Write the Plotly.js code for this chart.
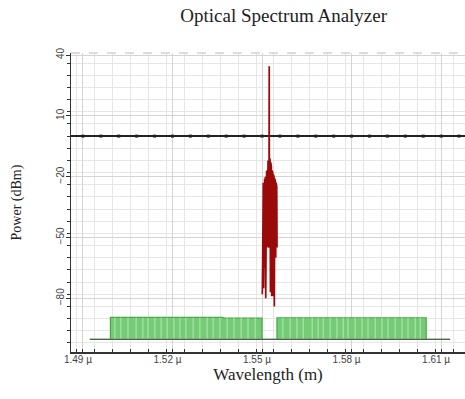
<!DOCTYPE html>
<html>
<head>
<meta charset="utf-8">
<script src="https://cdn.plot.ly/plotly-3.0.1.min.js"></script>
<style>html,body{margin:0;padding:0;background:#fff;}#chart{width:465px;height:399px;}</style>
</head>
<body>
<div id="chart"></div>
<script>
// ---- data (wavelength in µm, power in dBm) ----
const noiseX = [1.4923, 1.4992, 1.4992, 1.5369, 1.5371, 1.5500, 1.5500, 1.5550, 1.5550, 1.6050, 1.6050, 1.6130];
const noiseY = [-100.3, -100.3, -89.4, -89.4, -89.8, -89.8, -100.3, -100.3, -89.6, -89.6, -100.3, -100.3];
const floorX = [1.4923, 1.6130];
const floorY = [-100.3, -100.3];
const stripeX = [1.5007, 1.5027, 1.5051, 1.5078, 1.5101, 1.5118, 1.5141, 1.5162, 1.5182, 1.5205, 1.5225,
  1.5245, 1.5269, 1.5292, 1.5316, 1.5336, 1.5359, 1.5383, 1.5406, 1.5430, 1.5453, 1.5477,
  1.5570, 1.5594, 1.5617, 1.5638, 1.5668, 1.5688, 1.5705, 1.5728, 1.5751, 1.5772, 1.5788,
  1.5812, 1.5835, 1.5855, 1.5879, 1.5902, 1.5922, 1.5946, 1.5969, 1.5989, 1.6013, 1.6030];
const stripeLow = -100.0;
const stripeHigh = -89.6;
const signalX = [1.55010, 1.55020, 1.55034, 1.55044, 1.55054, 1.55067, 1.55077, 1.55087, 1.55101, 1.55111,
  1.55124, 1.55134, 1.55144, 1.55154, 1.55168, 1.55178, 1.55188, 1.55201, 1.55211, 1.55221,
  1.55231, 1.55238, 1.55241, 1.55245, 1.55255, 1.55268, 1.55282, 1.55292, 1.55302, 1.55312,
  1.55325, 1.55335, 1.55345, 1.55359, 1.55369, 1.55379, 1.55392, 1.55402, 1.55412, 1.55426,
  1.55436, 1.55446, 1.55459, 1.55469, 1.55483, 1.55493, 1.55503];
const signalY = [-78, -24, -60, -23, -75, -22, -69, -21, -65, -20,
  -80, -18, -70, -17, -55, -15, -55, -12, -52, -10,
  -55, -8, 34.5, -9, -55, -11, -77, -13, -60, -15,
  -79, -17, -62, -18, -79, -19, -60, -20, -84, -21,
  -84, -22, -60, -23, -55, -25, -55];
// marks along the 0 dBm reference line
const refLineX = [1.49, 1.496, 1.502, 1.508, 1.514, 1.52, 1.526, 1.532, 1.538, 1.544, 1.55, 1.556,
  1.562, 1.568, 1.574, 1.58, 1.586, 1.592, 1.598, 1.604, 1.61, 1.616];
const refLevel = 0;

// ---- build stripe segments from data ----
const sx = [], sy = [];
stripeX.forEach(x => { sx.push(x, x, null); sy.push(stripeLow, stripeHigh, null); });

const traces = [
  {x: noiseX, y: noiseY, type: 'scatter', mode: 'lines', fill: 'toself',
   fillcolor: 'rgb(118,204,118)', line: {color: 'rgb(70,170,70)', width: 1.2}, hoverinfo: 'skip'},
  {x: sx, y: sy, type: 'scatter', mode: 'lines', line: {color: 'rgb(180,230,180)', width: 1}, hoverinfo: 'skip'},
  {x: floorX, y: floorY, type: 'scatter', mode: 'lines', line: {color: 'rgb(80,100,80)', width: 1.2}, hoverinfo: 'skip'},
  {x: refLineX, y: refLineX.map(() => refLevel), type: 'scatter', mode: 'markers',
   marker: {symbol: 'square', size: 3, color: '#222'}, hoverinfo: 'skip'},
  {x: signalX, y: signalY, type: 'scatter', mode: 'lines', line: {color: 'rgb(155,10,10)', width: 1.7}, hoverinfo: 'skip'}
];

const layout = {
  width: 465, height: 399,
  margin: {l: 71, r: 0, t: 53, b: 47},
  paper_bgcolor: '#ffffff', plot_bgcolor: '#ffffff',
  showlegend: false,
  title: {text: 'Optical Spectrum Analyzer', font: {family: 'Liberation Serif', size: 19, color: '#222'},
          xref: 'container', yref: 'container', x: 0.61, xanchor: 'center', y: 0.962, yanchor: 'middle'},
  xaxis: {
    range: [1.486, 1.618], tick0: 1.49, dtick: 0.03, tickformat: '.2f', ticksuffix: ' µ',
    showgrid: true, gridcolor: '#d4d4d4', gridwidth: 1,
    minor: {dtick: 0.006, showgrid: true, gridcolor: '#e6e6e6', ticks: 'inside', ticklen: 3, tickcolor: '#333'},
    ticks: 'inside', ticklen: 3, tickcolor: '#333',
    showline: true, linecolor: '#333', linewidth: 1.5,
    zeroline: false,
    tickfont: {family: 'Liberation Sans', size: 10, color: '#444'},
    ticklabelshift: -5, ticklabelstandoff: -3,
    title: {text: 'Wavelength (m)', font: {family: 'Liberation Serif', size: 17, color: '#222'}, standoff: 4}
  },
  yaxis: {
    range: [-106.5, 41], tick0: 40, dtick: 30, tickangle: -90,
    showgrid: true, gridcolor: '#d4d4d4', gridwidth: 1,
    minor: {dtick: 6, showgrid: true, gridcolor: '#e6e6e6', ticks: 'outside', ticklen: 3, tickcolor: '#333'},
    ticks: 'outside', ticklen: 4, tickcolor: '#333',
    showline: true, linecolor: '#333', linewidth: 1.5,
    zeroline: true, zerolinecolor: '#222', zerolinewidth: 1.5,
    tickfont: {family: 'Liberation Sans', size: 10, color: '#444'},
    ticklabelstandoff: -2,
    title: {text: 'Power (dBm)', font: {family: 'Liberation Serif', size: 14, color: '#222'}, standoff: 29}
  },
  shapes: [
    {type: 'line', xref: 'paper', yref: 'paper', x0: 0, x1: 1, y0: 1, y1: 1,
     line: {color: '#bbbbbb', width: 1, dash: 'dash'}}
  ]
};

Plotly.newPlot('chart', traces, layout, {displayModeBar: false, staticPlot: true});
</script>
</body>
</html>
